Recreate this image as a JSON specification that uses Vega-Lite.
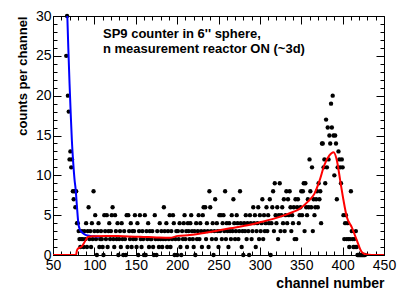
{
  "$schema": "https://vega.github.io/schema/vega-lite/v6.json",
  "width": 331,
  "height": 239,
  "autosize": {"type": "none"},
  "padding": {"left": 53, "top": 16, "right": 31, "bottom": 45},
  "background": "white",
  "config": {
    "view": {"stroke": "black", "strokeWidth": 1},
    "font": "Liberation Sans",
    "axis": {"grid": false, "domainColor": "black", "tickColor": "black", "labelColor": "black", "titleColor": "black", "labelFont": "Liberation Sans", "titleFont": "Liberation Sans", "labelFontSize": 14, "labelFlush": false, "labelOverlap": false, "labelBound": false, "tickWidth": 1, "domainWidth": 1}
  },
  "datasets": {
    "counts": [
      {"channel": 66, "counts": 25}, {"channel": 67, "counts": 30}, {"channel": 68, "counts": 20}, {"channel": 69, "counts": 18}, {"channel": 70, "counts": 12}, {"channel": 71, "counts": 13}, {"channel": 72, "counts": 11}, {"channel": 73, "counts": 12}, {"channel": 74, "counts": 8}, {"channel": 75, "counts": 7}, {"channel": 76, "counts": 8}, {"channel": 77, "counts": 6}, {"channel": 78, "counts": 8}, {"channel": 79, "counts": 4},
      {"channel": 80, "counts": 4}, {"channel": 81, "counts": 3}, {"channel": 82, "counts": 2}, {"channel": 83, "counts": 1}, {"channel": 84, "counts": 2}, {"channel": 85, "counts": 3}, {"channel": 86, "counts": 2}, {"channel": 87, "counts": 1}, {"channel": 88, "counts": 3}, {"channel": 89, "counts": 2},
      {"channel": 90, "counts": 4}, {"channel": 91, "counts": 1}, {"channel": 92, "counts": 3}, {"channel": 93, "counts": 6}, {"channel": 94, "counts": 2}, {"channel": 95, "counts": 3}, {"channel": 96, "counts": 1}, {"channel": 97, "counts": 4}, {"channel": 98, "counts": 2}, {"channel": 99, "counts": 8},
      {"channel": 100, "counts": 3}, {"channel": 101, "counts": 5}, {"channel": 102, "counts": 2}, {"channel": 103, "counts": 0}, {"channel": 104, "counts": 3}, {"channel": 105, "counts": 4}, {"channel": 106, "counts": 1}, {"channel": 107, "counts": 2}, {"channel": 108, "counts": 3}, {"channel": 109, "counts": 2},
      {"channel": 110, "counts": 1}, {"channel": 111, "counts": 0}, {"channel": 112, "counts": 5}, {"channel": 113, "counts": 3}, {"channel": 114, "counts": 2}, {"channel": 115, "counts": 5}, {"channel": 116, "counts": 1}, {"channel": 117, "counts": 3}, {"channel": 118, "counts": 4}, {"channel": 119, "counts": 2},
      {"channel": 120, "counts": 3}, {"channel": 121, "counts": 5}, {"channel": 122, "counts": 6}, {"channel": 123, "counts": 2}, {"channel": 124, "counts": 1}, {"channel": 125, "counts": 5}, {"channel": 126, "counts": 3}, {"channel": 127, "counts": 2}, {"channel": 128, "counts": 4}, {"channel": 129, "counts": 0},
      {"channel": 130, "counts": 2}, {"channel": 131, "counts": 3}, {"channel": 132, "counts": 1}, {"channel": 133, "counts": 4}, {"channel": 134, "counts": 2}, {"channel": 135, "counts": 0}, {"channel": 136, "counts": 3}, {"channel": 137, "counts": 2}, {"channel": 138, "counts": 0}, {"channel": 139, "counts": 5},
      {"channel": 140, "counts": 1}, {"channel": 141, "counts": 5}, {"channel": 142, "counts": 3}, {"channel": 143, "counts": 2}, {"channel": 144, "counts": 4}, {"channel": 145, "counts": 1}, {"channel": 146, "counts": 3}, {"channel": 147, "counts": 2}, {"channel": 148, "counts": 3}, {"channel": 149, "counts": 5},
      {"channel": 150, "counts": 2}, {"channel": 151, "counts": 1}, {"channel": 152, "counts": 4}, {"channel": 153, "counts": 0}, {"channel": 154, "counts": 3}, {"channel": 155, "counts": 5}, {"channel": 156, "counts": 2}, {"channel": 157, "counts": 1}, {"channel": 158, "counts": 3}, {"channel": 159, "counts": 2},
      {"channel": 160, "counts": 0}, {"channel": 161, "counts": 5}, {"channel": 162, "counts": 0}, {"channel": 163, "counts": 3}, {"channel": 164, "counts": 2}, {"channel": 165, "counts": 4}, {"channel": 166, "counts": 1}, {"channel": 167, "counts": 3}, {"channel": 168, "counts": 2}, {"channel": 169, "counts": 2},
      {"channel": 170, "counts": 3}, {"channel": 171, "counts": 1}, {"channel": 172, "counts": 0}, {"channel": 173, "counts": 5}, {"channel": 174, "counts": 2}, {"channel": 175, "counts": 0}, {"channel": 176, "counts": 3}, {"channel": 177, "counts": 2}, {"channel": 178, "counts": 1}, {"channel": 179, "counts": 4},
      {"channel": 180, "counts": 2}, {"channel": 181, "counts": 3}, {"channel": 182, "counts": 1}, {"channel": 183, "counts": 2}, {"channel": 184, "counts": 6}, {"channel": 185, "counts": 3}, {"channel": 186, "counts": 2}, {"channel": 187, "counts": 4}, {"channel": 188, "counts": 1}, {"channel": 189, "counts": 3},
      {"channel": 190, "counts": 2}, {"channel": 191, "counts": 5}, {"channel": 192, "counts": 1}, {"channel": 193, "counts": 3}, {"channel": 194, "counts": 2}, {"channel": 195, "counts": 5}, {"channel": 196, "counts": 4}, {"channel": 197, "counts": 0}, {"channel": 198, "counts": 2}, {"channel": 199, "counts": 3},
      {"channel": 200, "counts": 0}, {"channel": 201, "counts": 3}, {"channel": 202, "counts": 2}, {"channel": 203, "counts": 4}, {"channel": 204, "counts": 1}, {"channel": 205, "counts": 0}, {"channel": 206, "counts": 3}, {"channel": 207, "counts": 2}, {"channel": 208, "counts": 4}, {"channel": 209, "counts": 5},
      {"channel": 210, "counts": 2}, {"channel": 211, "counts": 3}, {"channel": 212, "counts": 1}, {"channel": 213, "counts": 4}, {"channel": 214, "counts": 3}, {"channel": 215, "counts": 2}, {"channel": 216, "counts": 4}, {"channel": 217, "counts": 5}, {"channel": 218, "counts": 3}, {"channel": 219, "counts": 2},
      {"channel": 220, "counts": 1}, {"channel": 221, "counts": 3}, {"channel": 222, "counts": 0}, {"channel": 223, "counts": 4}, {"channel": 224, "counts": 2}, {"channel": 225, "counts": 3}, {"channel": 226, "counts": 5}, {"channel": 227, "counts": 2}, {"channel": 228, "counts": 4}, {"channel": 229, "counts": 3},
      {"channel": 230, "counts": 1}, {"channel": 231, "counts": 5}, {"channel": 232, "counts": 6}, {"channel": 233, "counts": 3}, {"channel": 234, "counts": 6}, {"channel": 235, "counts": 2}, {"channel": 236, "counts": 4}, {"channel": 237, "counts": 3}, {"channel": 238, "counts": 1}, {"channel": 239, "counts": 8},
      {"channel": 240, "counts": 6}, {"channel": 241, "counts": 3}, {"channel": 242, "counts": 2}, {"channel": 243, "counts": 4}, {"channel": 244, "counts": 0}, {"channel": 245, "counts": 3}, {"channel": 246, "counts": 7}, {"channel": 247, "counts": 2}, {"channel": 248, "counts": 4}, {"channel": 249, "counts": 3},
      {"channel": 250, "counts": 1}, {"channel": 251, "counts": 5}, {"channel": 252, "counts": 3}, {"channel": 253, "counts": 5}, {"channel": 254, "counts": 2}, {"channel": 255, "counts": 4}, {"channel": 256, "counts": 5}, {"channel": 257, "counts": 3}, {"channel": 258, "counts": 8}, {"channel": 259, "counts": 2},
      {"channel": 260, "counts": 4}, {"channel": 261, "counts": 3}, {"channel": 262, "counts": 1}, {"channel": 263, "counts": 4}, {"channel": 264, "counts": 3}, {"channel": 265, "counts": 2}, {"channel": 266, "counts": 5}, {"channel": 267, "counts": 3}, {"channel": 268, "counts": 7}, {"channel": 269, "counts": 4},
      {"channel": 270, "counts": 2}, {"channel": 271, "counts": 3}, {"channel": 272, "counts": 5}, {"channel": 273, "counts": 4}, {"channel": 274, "counts": 2}, {"channel": 275, "counts": 3}, {"channel": 276, "counts": 8}, {"channel": 277, "counts": 4}, {"channel": 278, "counts": 1}, {"channel": 279, "counts": 3},
      {"channel": 280, "counts": 0}, {"channel": 281, "counts": 4}, {"channel": 282, "counts": 3}, {"channel": 283, "counts": 5}, {"channel": 284, "counts": 2}, {"channel": 285, "counts": 4}, {"channel": 286, "counts": 3}, {"channel": 287, "counts": 0}, {"channel": 288, "counts": 5}, {"channel": 289, "counts": 4},
      {"channel": 290, "counts": 2}, {"channel": 291, "counts": 3}, {"channel": 292, "counts": 6}, {"channel": 293, "counts": 4}, {"channel": 294, "counts": 5}, {"channel": 295, "counts": 1}, {"channel": 296, "counts": 3}, {"channel": 297, "counts": 4}, {"channel": 298, "counts": 6}, {"channel": 299, "counts": 2},
      {"channel": 300, "counts": 5}, {"channel": 301, "counts": 3}, {"channel": 302, "counts": 4}, {"channel": 303, "counts": 7}, {"channel": 304, "counts": 2}, {"channel": 305, "counts": 5}, {"channel": 306, "counts": 3}, {"channel": 307, "counts": 4}, {"channel": 308, "counts": 6}, {"channel": 309, "counts": 3},
      {"channel": 310, "counts": 5}, {"channel": 311, "counts": 4}, {"channel": 312, "counts": 7}, {"channel": 313, "counts": 0}, {"channel": 314, "counts": 4}, {"channel": 315, "counts": 6}, {"channel": 316, "counts": 8}, {"channel": 317, "counts": 3}, {"channel": 318, "counts": 9}, {"channel": 319, "counts": 5},
      {"channel": 320, "counts": 4}, {"channel": 321, "counts": 6}, {"channel": 322, "counts": 2}, {"channel": 323, "counts": 5}, {"channel": 324, "counts": 9}, {"channel": 325, "counts": 3}, {"channel": 326, "counts": 5}, {"channel": 327, "counts": 6}, {"channel": 328, "counts": 4}, {"channel": 329, "counts": 7},
      {"channel": 330, "counts": 3}, {"channel": 331, "counts": 5}, {"channel": 332, "counts": 8}, {"channel": 333, "counts": 4}, {"channel": 334, "counts": 7}, {"channel": 335, "counts": 5}, {"channel": 336, "counts": 8}, {"channel": 337, "counts": 6}, {"channel": 338, "counts": 3}, {"channel": 339, "counts": 5},
      {"channel": 340, "counts": 4}, {"channel": 341, "counts": 6}, {"channel": 342, "counts": 2}, {"channel": 343, "counts": 7}, {"channel": 344, "counts": 2}, {"channel": 345, "counts": 6}, {"channel": 346, "counts": 7}, {"channel": 347, "counts": 4}, {"channel": 348, "counts": 5}, {"channel": 349, "counts": 6},
      {"channel": 350, "counts": 8}, {"channel": 351, "counts": 5}, {"channel": 352, "counts": 8}, {"channel": 353, "counts": 9}, {"channel": 354, "counts": 3}, {"channel": 355, "counts": 9}, {"channel": 356, "counts": 6}, {"channel": 357, "counts": 5}, {"channel": 358, "counts": 7}, {"channel": 359, "counts": 6},
      {"channel": 360, "counts": 12}, {"channel": 361, "counts": 8}, {"channel": 362, "counts": 6}, {"channel": 363, "counts": 11}, {"channel": 364, "counts": 3}, {"channel": 365, "counts": 7}, {"channel": 366, "counts": 5}, {"channel": 367, "counts": 6}, {"channel": 368, "counts": 7}, {"channel": 369, "counts": 8},
      {"channel": 370, "counts": 6}, {"channel": 371, "counts": 9}, {"channel": 372, "counts": 7}, {"channel": 373, "counts": 8}, {"channel": 374, "counts": 4}, {"channel": 375, "counts": 14}, {"channel": 376, "counts": 14}, {"channel": 377, "counts": 11}, {"channel": 378, "counts": 12}, {"channel": 379, "counts": 9},
      {"channel": 380, "counts": 17}, {"channel": 381, "counts": 11}, {"channel": 382, "counts": 16}, {"channel": 383, "counts": 12}, {"channel": 384, "counts": 15}, {"channel": 385, "counts": 14}, {"channel": 386, "counts": 19}, {"channel": 387, "counts": 16}, {"channel": 388, "counts": 20}, {"channel": 389, "counts": 15},
      {"channel": 390, "counts": 10}, {"channel": 391, "counts": 15}, {"channel": 392, "counts": 14}, {"channel": 393, "counts": 7}, {"channel": 394, "counts": 11}, {"channel": 395, "counts": 13}, {"channel": 396, "counts": 12}, {"channel": 397, "counts": 11}, {"channel": 398, "counts": 9}, {"channel": 399, "counts": 12},
      {"channel": 400, "counts": 11}, {"channel": 401, "counts": 5}, {"channel": 402, "counts": 2}, {"channel": 403, "counts": 4}, {"channel": 404, "counts": 5}, {"channel": 405, "counts": 2}, {"channel": 406, "counts": 4}, {"channel": 407, "counts": 2}, {"channel": 408, "counts": 1}, {"channel": 409, "counts": 2},
      {"channel": 410, "counts": 8}, {"channel": 411, "counts": 3}, {"channel": 412, "counts": 2}, {"channel": 413, "counts": 1}, {"channel": 414, "counts": 2}, {"channel": 415, "counts": 1}, {"channel": 416, "counts": 3}, {"channel": 417, "counts": 1}, {"channel": 418, "counts": 0}, {"channel": 419, "counts": 0},
      {"channel": 420, "counts": 0}, {"channel": 421, "counts": 0}, {"channel": 422, "counts": 0}, {"channel": 423, "counts": 0}, {"channel": 424, "counts": 0}, {"channel": 425, "counts": 0}, {"channel": 426, "counts": 0}, {"channel": 427, "counts": 0}
    ],
    "expo": [
      {"channel": 67.3, "counts": 30}, {"channel": 68.5, "counts": 26}, {"channel": 70, "counts": 21.5}, {"channel": 71.5, "counts": 17.5}, {"channel": 72.8, "counts": 14.4}, {"channel": 74.5, "counts": 11.5}, {"channel": 76, "counts": 9.5}, {"channel": 77.4, "counts": 8.2}, {"channel": 79, "counts": 6}, {"channel": 80.6, "counts": 4.0}, {"channel": 82.5, "counts": 3.2}, {"channel": 84.5, "counts": 2.9}, {"channel": 86.6, "counts": 2.7}, {"channel": 90, "counts": 2.5}, {"channel": 95, "counts": 2.4}, {"channel": 100, "counts": 2.35}, {"channel": 106, "counts": 2.3}
    ],
    "fit": [
      {"channel": 50, "counts": 0}, {"channel": 77.8, "counts": 0}, {"channel": 79, "counts": 0.6}, {"channel": 80.6, "counts": 0.85}, {"channel": 84.6, "counts": 1.05}, {"channel": 88, "counts": 1.6}, {"channel": 92.7, "counts": 2.3}, {"channel": 100, "counts": 2.35}, {"channel": 115, "counts": 2.4}, {"channel": 135, "counts": 2.35}, {"channel": 155, "counts": 2.3}, {"channel": 175, "counts": 2.2}, {"channel": 191, "counts": 2.15}, {"channel": 201, "counts": 2.4}, {"channel": 215, "counts": 2.5}, {"channel": 240, "counts": 2.9}, {"channel": 264, "counts": 3.35}, {"channel": 288, "counts": 3.8}, {"channel": 300, "counts": 4.1}, {"channel": 315, "counts": 4.5}, {"channel": 330, "counts": 5.0}, {"channel": 340, "counts": 5.4}, {"channel": 348, "counts": 5.8}, {"channel": 358, "counts": 6.7}, {"channel": 366, "counts": 7.7}, {"channel": 372, "counts": 9.3}, {"channel": 378, "counts": 11.3}, {"channel": 384, "counts": 12.5}, {"channel": 389, "counts": 12.9}, {"channel": 393, "counts": 11.9}, {"channel": 397, "counts": 9.4}, {"channel": 401, "counts": 6.9}, {"channel": 405, "counts": 4.8}, {"channel": 411, "counts": 3.5}, {"channel": 417, "counts": 1.9}, {"channel": 423, "counts": 0.4}, {"channel": 429, "counts": 0.05}, {"channel": 435, "counts": 0}, {"channel": 450, "counts": 0}
    ]
  },
  "resolve": {"axis": {"x": "independent", "y": "independent"}},
  "layer": [
    {
      "data": {"name": "counts"},
      "mark": {"type": "circle", "size": 19, "color": "black", "opacity": 1},
      "encoding": {
        "x": {"field": "channel", "type": "quantitative", "scale": {"domain": [50, 450], "nice": false, "zero": false},
          "axis": {"orient": "bottom", "values": [50,60,70,80,90,100,110,120,130,140,150,160,170,180,190,200,210,220,230,240,250,260,270,280,290,300,310,320,330,340,350,360,370,380,390,400,410,420,430,440,450],
            "tickSize": {"condition": {"test": "datum.value % 50 === 0", "value": -8}, "value": -4},
            "labelExpr": "datum.value % 50 === 0 ? datum.label : ''", "labelPadding": 11,
            "title": "channel number", "titleFontSize": 14, "titleFontWeight": "bold", "titleAnchor": "end", "titleAlign": "right", "titleBaseline": "alphabetic", "titleX": 331, "titleY": 32}},
        "y": {"field": "counts", "type": "quantitative", "scale": {"domain": [0, 30], "nice": false},
          "axis": {"orient": "left", "values": [0,1,2,3,4,5,6,7,8,9,10,11,12,13,14,15,16,17,18,19,20,21,22,23,24,25,26,27,28,29,30],
            "tickSize": {"condition": {"test": "datum.value % 5 === 0", "value": -8}, "value": -4},
            "labelExpr": "datum.value % 5 === 0 ? datum.label : ''", "labelPadding": 10,
            "title": "counts per channel", "titleFontSize": 13, "titleFontWeight": "bold", "titleAngle": 270, "titleAnchor": "end", "titleAlign": "right", "titleBaseline": "alphabetic", "titleX": -27, "titleY": 0}}
      }
    },
    {
      "data": {"name": "expo"},
      "mark": {"type": "line", "color": "#0000ff", "strokeWidth": 2, "interpolate": "monotone", "clip": true},
      "encoding": {
        "x": {"field": "channel", "type": "quantitative", "scale": {"domain": [50, 450], "nice": false, "zero": false},
          "axis": {"orient": "top", "values": [50,60,70,80,90,100,110,120,130,140,150,160,170,180,190,200,210,220,230,240,250,260,270,280,290,300,310,320,330,340,350,360,370,380,390,400,410,420,430,440,450],
            "tickSize": {"condition": {"test": "datum.value % 50 === 0", "value": -8}, "value": -4}, "labels": false, "domain": false, "title": null}},
        "y": {"field": "counts", "type": "quantitative", "scale": {"domain": [0, 30], "nice": false},
          "axis": {"orient": "right", "values": [0,1,2,3,4,5,6,7,8,9,10,11,12,13,14,15,16,17,18,19,20,21,22,23,24,25,26,27,28,29,30],
            "tickSize": {"condition": {"test": "datum.value % 5 === 0", "value": -8}, "value": -4}, "labels": false, "domain": false, "title": null}}
      }
    },
    {
      "data": {"name": "fit"},
      "mark": {"type": "line", "color": "#ff0000", "strokeWidth": 2, "interpolate": "monotone", "clip": true},
      "encoding": {
        "x": {"field": "channel", "type": "quantitative", "scale": {"domain": [50, 450], "nice": false, "zero": false}, "axis": null},
        "y": {"field": "counts", "type": "quantitative", "scale": {"domain": [0, 30], "nice": false}, "axis": null}
      }
    },
    {
      "data": {"values": [{"label": "annotation"}]},
      "mark": {"type": "text", "align": "left", "baseline": "alphabetic", "font": "Liberation Sans", "fontWeight": "bold", "fontSize": 13, "lineHeight": 15, "color": "black"},
      "encoding": {
        "x": {"datum": 110.4, "type": "quantitative", "scale": {"domain": [50, 450], "nice": false, "zero": false}, "axis": null},
        "y": {"datum": 27.2, "type": "quantitative", "scale": {"domain": [0, 30], "nice": false}, "axis": null},
        "text": {"value": ["SP9 counter in 6'' sphere,", "n measurement reactor ON (~3d)"]}
      }
    }
  ]
}
